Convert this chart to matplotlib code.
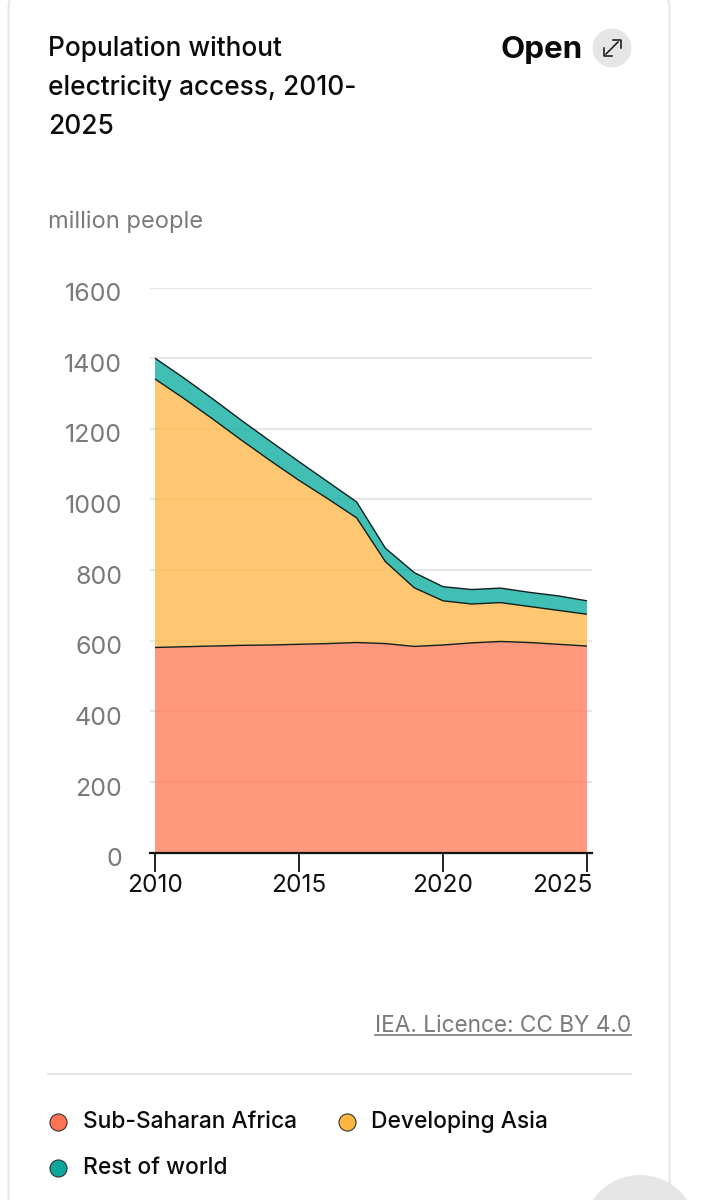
import matplotlib
matplotlib.use("Agg")
import matplotlib.pyplot as plt
from matplotlib.patches import FancyBboxPatch, Circle
from matplotlib.transforms import ScaledTranslation

years = [2010, 2011, 2012, 2013, 2014, 2015, 2016, 2017, 2018, 2019, 2020, 2021, 2022, 2023, 2024, 2025]
africa = [581, 583, 585, 587, 588, 590, 592, 595, 592, 584, 588, 594, 598, 595, 590, 585]
asia = [760, 703, 643, 581, 522, 464, 410, 353, 232, 166, 125, 110, 110, 102, 96, 90]
rest = [59, 58, 57, 56, 55, 53, 48, 45, 38, 43, 40, 41, 41, 40, 41, 38]
series_names = ["Sub-Saharan Africa", "Developing Asia", "Rest of world"]
y_ticks = [0, 200, 400, 600, 800, 1000, 1200, 1400, 1600]
x_ticks = [2010, 2015, 2020, 2025]

area_colors = ["#FF7F5C", "#FFBA4D", "#12B0A3"]
legend_colors = ["#FF7452", "#FDB740", "#0CA79A"]
W, H = 722, 1200
FONT = ["Inter", "DejaVu Sans"]
plt.rcParams["font.family"] = FONT

fig = plt.figure(figsize=(W / 100, H / 100), dpi=100, facecolor="white")
bg = fig.add_axes([0, 0, 1, 1], zorder=0)
bg.set_xlim(0, W)
bg.set_ylim(H, 0)
bg.axis("off")

# card and decorations
bg.add_patch(FancyBboxPatch((8.5, -16), 661, 1300, boxstyle="round,pad=0,rounding_size=26",
                            fc="white", ec="#E8E8E8", lw=1.6))
bg.add_patch(Circle((640, 1232), 57, fc="#E6E6E6", ec="none"))
bg.plot([48, 631], [1074, 1074], color="#E5E5E5", lw=1.6)
bg.add_patch(Circle((612, 48), 19.5, fc="#E6E6E6", ec="none"))
# expand icon
bg.plot([606, 618], [54, 42], color="#111111", lw=1.1)
bg.plot([612.5, 620.5, 620.5], [40, 40, 48], color="#111111", lw=1.1)
bg.plot([603.5, 603.5, 611.5], [48, 56, 56], color="#111111", lw=1.1)

# title etc.
for i, line in enumerate(["Population without", "electricity access, 2010-", "2025"]):
    bg.text(48, 49 + i * 39, line, fontsize=18.9, fontweight="medium", color="#0A0A0A", va="center", ha="left")
bg.text(583, 50, "Open", fontsize=22.6, fontweight="bold", color="#0A0A0A", va="center", ha="right")
bg.text(48, 222, "million people", fontsize=17, color="#7A7A7A", va="center", ha="left")
bg.text(631, 1026, "IEA. Licence: CC BY 4.0", fontsize=16.3, color="#7A7A7A", va="center", ha="right")
bg.plot([375, 631], [1035, 1035], color="#7A7A7A", lw=1.2)

# legend
for (cx, cy, tx, name, col) in [(58, 1122, 83, series_names[0], legend_colors[0]),
                                (347, 1122, 371, series_names[1], legend_colors[1]),
                                (58, 1168, 83, series_names[2], legend_colors[2])]:
    bg.plot([cx], [cy], "o", ms=12.3, mfc=col, mec="#333333", mew=0.8)
    bg.text(tx, cy - 0.5, name, fontsize=16.4, fontweight="medium", color="#0A0A0A", va="center", ha="left")

# chart
L, R, T, B = 150, 592, 287.5, 852.7
ax = fig.add_axes([L / W, 1 - B / H, (R - L) / W, (B - T) / H], zorder=1)
ax.patch.set_alpha(0)
per_px = 15 / 432
ax.set_xlim(2010 - 5 * per_px, 2025 + 5 * per_px)
ax.set_ylim(0, 1600)
ax.set_axisbelow(True)
ax.yaxis.grid(True, color="#E6E6E6", lw=1.6)
ax.xaxis.grid(False)
ax.stackplot(years, africa, asia, rest, colors=area_colors, alpha=0.8, edgecolor="none", zorder=2)
c1 = [a for a in africa]
c2 = [a + b for a, b in zip(africa, asia)]
c3 = [a + b + c for a, b, c in zip(africa, asia, rest)]
for c in (c1, c2, c3):
    ax.plot(years, c, color="#10201E", lw=1.0, zorder=3, solid_capstyle="butt")

for s in ("top", "left", "right"):
    ax.spines[s].set_visible(False)
ax.spines["bottom"].set_color("#111111")
ax.spines["bottom"].set_linewidth(1.6)
ax.set_yticks(y_ticks)
ax.set_yticklabels([str(v) for v in y_ticks], fontsize=18, color="#7A7A7A")
ax.tick_params(axis="y", length=0, pad=20)
ax.set_xticks(x_ticks)
ax.set_xticklabels([str(v) for v in x_ticks], fontsize=17.6, color="#111111")
ax.tick_params(axis="x", length=14, width=1.3, color="#111111", pad=1)
for lab in ax.get_yticklabels():
    lab.set_verticalalignment("center")
    lab.set_transform(lab.get_transform() + ScaledTranslation(0, -7 / 100, fig.dpi_scale_trans))
last = ax.get_xticklabels()[-1]
last.set_ha("right")
last.set_transform(last.get_transform() + ScaledTranslation(5 / 100, 0, fig.dpi_scale_trans))

fig.savefig("out.png", dpi=100, facecolor="white")
